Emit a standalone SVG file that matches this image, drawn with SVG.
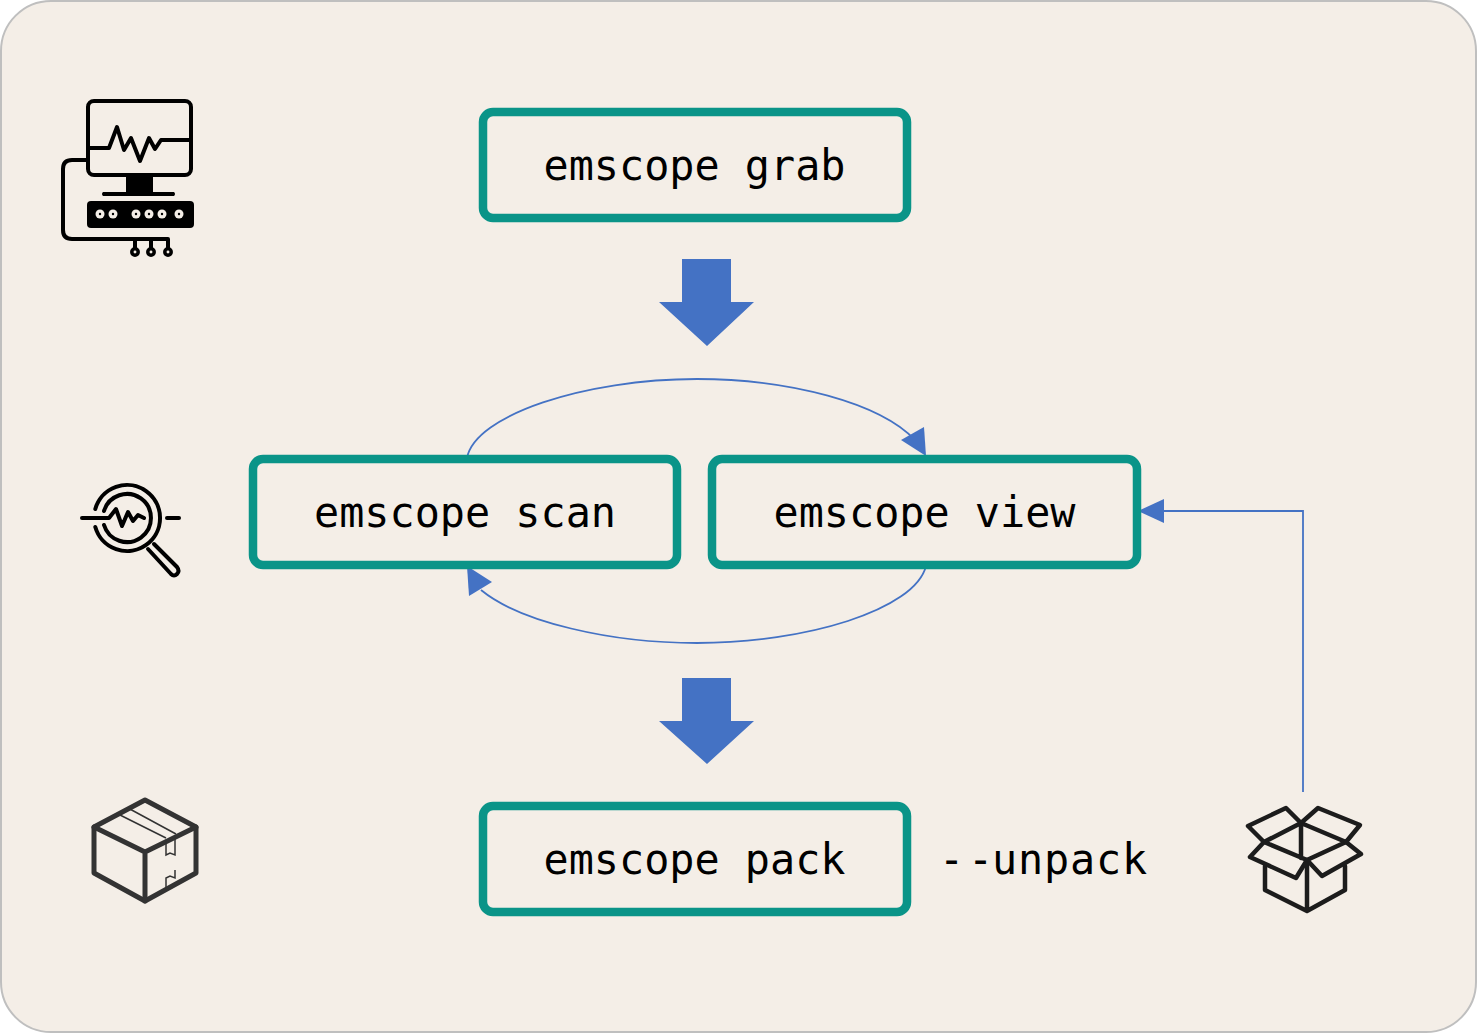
<svg xmlns="http://www.w3.org/2000/svg" width="1477" height="1033" viewBox="0 0 1477 1033">
<style>
.box{fill:none;stroke:#0a9488;stroke-width:8.5}
.lbl{font-family:"DejaVu Sans Mono","Liberation Mono",monospace;font-size:41.8px;fill:#000}
.bar{fill:#4472c4}
.thin{fill:none;stroke:#4472c4;stroke-width:1.8}
.head{fill:#4472c4}
.k{fill:none;stroke:#000;stroke-width:4;stroke-linejoin:round;stroke-linecap:round}
.d{fill:none;stroke:#333;stroke-width:5;stroke-linejoin:round;stroke-linecap:round}
.o{fill:none;stroke:#1c1c1c;stroke-width:4.5;stroke-linejoin:round;stroke-linecap:round}
</style>
<rect x="1" y="1" width="1475" height="1031" rx="50" fill="#f4eee7" stroke="#bfbfbf" stroke-width="2"/>
<g id="connectors">
<path class="bar" d="M682 259H731V302H754L707 346L659 302H682Z"/>
<path class="bar" d="M682 678H731V721H754L707 764L659 721H682Z"/>
<path class="thin" d="M467 458C475 415 585 379 697 379C790 379 880 403 915 440"/>
<path class="head" d="M926 456L901 440L924 427Z"/>
<path class="thin" d="M926 566C915 610 805 643 697 643C610 643 520 622 481 590"/>
<path class="head" d="M467 566L492 582L469 596Z"/>
<path class="thin" d="M1303 792V511H1160"/>
<path class="head" d="M1138 511L1164 499V523Z"/>
</g>
<g id="grab"><rect class="box" x="483" y="112" width="424" height="106" rx="10"/><text class="lbl" x="694.5" y="180" text-anchor="middle">emscope grab</text></g>
<g id="scan"><rect class="box" x="253" y="459" width="424" height="106" rx="10"/><text class="lbl" x="465" y="527" text-anchor="middle">emscope scan</text></g>
<g id="view"><rect class="box" x="712" y="459" width="425" height="106" rx="10"/><text class="lbl" x="924.5" y="527" text-anchor="middle">emscope view</text></g>
<g id="pack"><rect class="box" x="483" y="806" width="424" height="106" rx="10"/><text class="lbl" x="694.5" y="874" text-anchor="middle">emscope pack</text></g>
<text id="unpack" class="lbl" x="939 968 992 1018 1044 1070 1096 1122" y="874">--unpack</text>
<g id="icon-monitor">
<rect class="k" x="88" y="101" width="103" height="74" rx="6"/>
<path class="k" d="M90 148H109L117 127L124 150L131 138L140 161L149 138L155 149L161 140H190"/>
<path d="M126 175H153V192H174Q176 194 174 196H103Q101 194 103 192H126Z" fill="#000"/>
<rect x="87" y="201" width="107" height="27" rx="4" fill="#000"/>
<g fill="#f4eee7"><circle cx="100" cy="214" r="4.5"/><circle cx="113" cy="214" r="4.5"/><circle cx="136" cy="214" r="4.5"/><circle cx="149" cy="214" r="4.5"/><circle cx="162" cy="214" r="4.5"/><circle cx="179" cy="214" r="4.5"/></g>
<g fill="#000"><circle cx="100" cy="214" r="1.2"/><circle cx="113" cy="214" r="1.2"/><circle cx="136" cy="214" r="1.2"/><circle cx="149" cy="214" r="1.2"/><circle cx="162" cy="214" r="1.2"/><circle cx="179" cy="214" r="1.2"/></g>
<path class="k" d="M87 160H72Q63 160 63 169V230Q63 239 72 239H168V250M135 239V250M151 239V250"/>
<g fill="#f4eee7" stroke="#000" stroke-width="3.5"><circle cx="135" cy="252" r="3.2"/><circle cx="151" cy="252" r="3.2"/><circle cx="168" cy="252" r="3.2"/></g>
</g>
<g id="icon-scan">
<path class="k" d="M95.3 509A33 33 0 1 1 95.3 527"/>
<path class="k" d="M104 511A24 24 0 1 1 104 525"/>
<path class="k" d="M82 518H109L116 509L122 526L128 512L133 521L138 515L144 518"/>
<path class="k" d="M167 518H179"/>
<path class="k" d="M148 549L171 574Q174 577 177 574Q180 571 177 567L154 544"/>
</g>
<g id="icon-box">
<path class="d" d="M145 800L196 827V873L145 901L94 873V827Z"/>
<path class="d" d="M94 827L145 852L196 827M145 852V901"/>
<path d="M118 814L166 838M128 808L176 834" fill="none" stroke="#333" stroke-width="1.5"/>
<path d="M166 840V855L170 853L175 855V835M166 888V878L170 876L175 878V870" fill="none" stroke="#333" stroke-width="1.5"/>
</g>
<g id="icon-open-box">
<path class="o" d="M1301 823L1264 842L1307 860L1346 842L1301 823V858"/>
<path class="o" d="M1301 823L1286 808L1248 826L1264 842L1250 857L1296 878L1307 860L1322 876L1361 854L1346 842"/>
<path class="o" d="M1301 823L1318 808L1360 825L1346 842"/>
<path class="o" d="M1265 866V890L1307 911L1345 890V866M1307 860V911"/>
</g>
</svg>
